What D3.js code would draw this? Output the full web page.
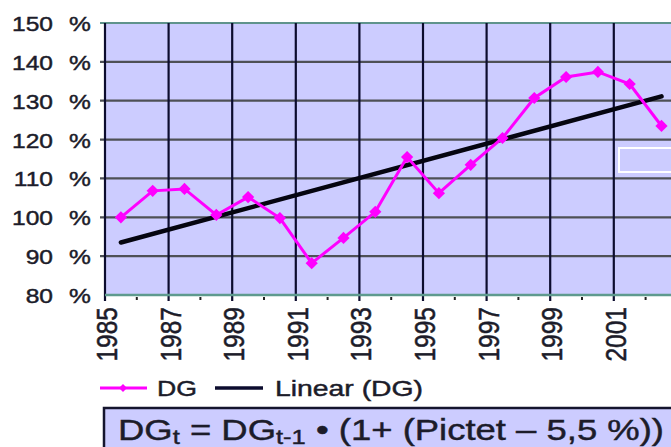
<!DOCTYPE html>
<html><head><meta charset="utf-8">
<script src="https://cdn.jsdelivr.net/npm/d3@7/dist/d3.min.js"></script>
<style>
html,body{margin:0;padding:0;background:#fff;overflow:hidden}
text{font-family:'Liberation Sans','Arimo',Arial,Helvetica,sans-serif}
</style></head>
<body><svg id="c" width="671" height="447" font-family="Liberation Sans, Arial, sans-serif"></svg>
<script>
const years = ["1985","1986","1987","1988","1989","1990","1991","1992","1993","1994","1995","1996","1997","1998","1999","2000","2001","2002"];
const dgValues = [100, 106.8, 107.3, 100.6, 105.2, 99.8, 88.2, 94.7, 101.4, 115.5, 106.2, 113.5, 120.4, 130.7, 136.1, 137.4, 134.3, 123.5];
const yTicks = [80, 90, 100, 110, 120, 130, 140, 150];
const xTickLabels = ["1985","1987","1989","1991","1993","1995","1997","1999","2001"];
const seriesNames = ["DG", "Linear (DG)"];

(function () {
const svg = d3.select("#c");
const SX = 1.17; // horizontal stretch of the original picture's text
const txtCol = "#1c1c2a";
const plotLeft = 105, plotTop = 23, plotBottom = 295, bandW = 31.8;
const x = d3.scaleBand().domain(years).range([plotLeft, plotLeft + years.length * bandW]).padding(0);
const y = d3.scaleLinear().domain([80, 150]).range([plotBottom, plotTop]);
const cx = d => x(d) + x.bandwidth() / 2;
const bold = sel => sel.attr("stroke", txtCol).attr("stroke-width", 0.45).attr("fill", txtCol);

// plot background
svg.append("rect").attr("x", plotLeft).attr("y", y(150)).attr("width", 700 - plotLeft).attr("height", y(80) - y(150)).attr("fill", "#ccccff");

// horizontal gridlines
svg.append("g").selectAll("line").data(yTicks.filter(v => v > 80)).join("line")
  .attr("x1", plotLeft - 5).attr("x2", 671).attr("y1", d => y(d)).attr("y2", d => y(d))
  .attr("stroke", d => d === 150 ? "#5f938c" : "#4e5056").attr("stroke-width", 2.2);

// vertical gridlines at every labelled boundary
svg.append("g").selectAll("line").data(xTickLabels).join("line")
  .attr("x1", d => x(d)).attr("x2", d => x(d)).attr("y1", y(150)).attr("y2", y(80) + 6)
  .attr("stroke", "#0c0c2e").attr("stroke-width", 2.2);

// minor ticks (every year)
svg.append("g").selectAll("line").data(years.filter(d => !xTickLabels.includes(d))).join("line")
  .attr("x1", d => x(d)).attr("x2", d => x(d)).attr("y1", y(80) + 2).attr("y2", y(80) + 5)
  .attr("stroke", "#222").attr("stroke-width", 2);

// bottom axis line (teal)
svg.append("line").attr("x1", plotLeft).attr("x2", 671).attr("y1", y(80)).attr("y2", y(80))
  .attr("stroke", "#5e9a8e").attr("stroke-width", 2.5);

// white artifact box at right
svg.append("rect").attr("x", 619).attr("y", 148).attr("width", 60).attr("height", 24)
  .attr("fill", "none").attr("stroke", "#ffffff").attr("stroke-width", 2);

// y labels
const yl = svg.append("g");
yTicks.forEach(v => {
  const g = yl.append("g").attr("transform", `translate(0,${y(v) + 8}) scale(${SX},1)`);
  bold(g.append("text").attr("x", 53 / SX).attr("text-anchor", "end").attr("font-size", 21)).text(v);
  bold(g.append("text").attr("x", 69 / SX).attr("font-size", 21)).text("%");
});

// x labels rotated
xTickLabels.forEach(d => {
  bold(svg.append("text")
    .attr("transform", `translate(${x(d) + 12},307) scale(${SX},1) rotate(-90)`)
    .attr("text-anchor", "end").attr("font-size", 24.5)).text(d);
});

// linear trend (least squares on the DG series)
const n = dgValues.length;
const idx = d3.range(n);
const mx = d3.mean(idx), my = d3.mean(dgValues);
const slope = d3.sum(idx, i => (i - mx) * (dgValues[i] - my)) / d3.sum(idx, i => (i - mx) ** 2);
const icpt = my - slope * mx;
svg.append("line")
  .attr("x1", cx(years[0])).attr("y1", y(icpt))
  .attr("x2", cx(years[n - 1])).attr("y2", y(icpt + slope * (n - 1)))
  .attr("stroke", "#050510").attr("stroke-width", 4.5).attr("stroke-linecap", "round");

// DG series
const line = d3.line().x((d, i) => cx(years[i])).y(d => y(d));
svg.append("path").datum(dgValues).attr("d", line).attr("fill", "none").attr("stroke", "#ff00ff").attr("stroke-width", 3);
const diamond = d3.symbol().type(d3.symbolDiamond2).size(95);
svg.append("g").selectAll("path").data(dgValues).join("path")
  .attr("d", diamond).attr("transform", (d, i) => `translate(${cx(years[i])},${y(d)})`)
  .attr("fill", "#ff00ff");

// legend
svg.append("line").attr("x1", 100).attr("x2", 147).attr("y1", 388).attr("y2", 388).attr("stroke", "#ff00ff").attr("stroke-width", 3);
svg.append("path").attr("d", d3.symbol().type(d3.symbolDiamond2).size(40)).attr("transform", "translate(123,388)").attr("fill", "#ff00ff");
bold(svg.append("text").attr("x", 157).attr("y", 396).attr("font-size", 22)
  .attr("textLength", 40).attr("lengthAdjust", "spacingAndGlyphs")).text(seriesNames[0]);
svg.append("line").attr("x1", 215).attr("x2", 263).attr("y1", 388).attr("y2", 388).attr("stroke", "#0c0c2e").attr("stroke-width", 3.5);
bold(svg.append("text").attr("x", 275).attr("y", 396).attr("font-size", 22)
  .attr("textLength", 148).attr("lengthAdjust", "spacingAndGlyphs")).text(seriesNames[1]);

// formula box
svg.append("rect").attr("x", 104).attr("y", 408).attr("width", 600).attr("height", 60)
  .attr("fill", "#ccccff").attr("stroke", "#15152e").attr("stroke-width", 2.5);
const ft = bold(svg.append("text").attr("x", 118).attr("y", 440).attr("font-size", 30)
  .attr("textLength", 546).attr("lengthAdjust", "spacingAndGlyphs"));
ft.append("tspan").text("DG");
ft.append("tspan").attr("font-size", 21).attr("dy", 4).text("t");
ft.append("tspan").attr("dy", -4).text(" = DG");
ft.append("tspan").attr("font-size", 21).attr("dy", 4).text("t-1");
ft.append("tspan").attr("dy", -4).text(" \u2022 (1+ (Pictet \u2013 5,5 %))");
})();
</script></body></html>
